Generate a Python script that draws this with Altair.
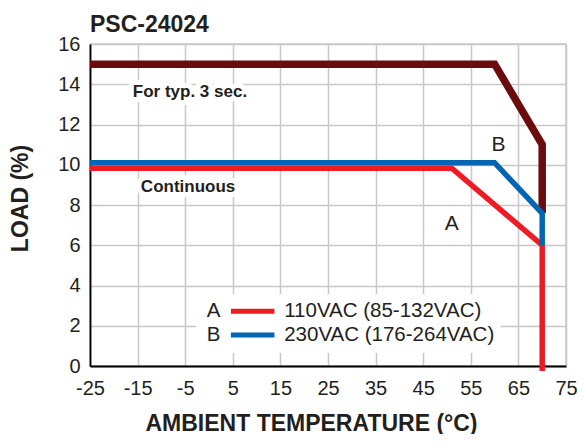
import altair as alt
import pandas as pd

# ---- data ----
peak_temp = [-25, 60, 70, 70]
peak_load = [15.0, 15.0, 11.0, 7.6]

b_temp = [-25, 60, 70, 70]
b_load = [10.1, 10.1, 7.58, 6.0]

a_temp = [-25, 51, 70, 70]
a_load = [9.83, 9.83, 6.0, -0.25]

x_ticks = [-25, -15, -5, 5, 15, 25, 35, 45, 55, 65, 75]
y_ticks = [0, 2, 4, 6, 8, 10, 12, 14, 16]

note_text = ["For typ. 3 sec.", "Continuous"]
note_x = [-4.0, -4.4]
note_y = [13.62, 8.87]

curve_tag = ["B", "A"]
tag_x = [60.8, 51.0]
tag_y = [11.0, 7.08]

legend_keys = ["A", "B"]
legend_labels = ["110VAC (85-132VAC)", "230VAC (176-264VAC)"]
legend_colors = ["#ed1c24", "#0066b3"]
legend_row_y = [2.72, 1.54]

DARK = "#6a0c0e"
BLUE = "#0066b3"
RED = "#ed1c24"
FONT = "Liberation Sans"
INK = "#231f20"

xs = alt.Scale(domain=[-25, 75], nice=False, zero=False)
ys = alt.Scale(domain=[0, 16], nice=False, zero=False)


def curve(temps, loads, name):
    return pd.DataFrame({"t": temps, "load": loads, "order": list(range(len(temps))), "s": name})


base_x = alt.X("t:Q", scale=xs,
               axis=alt.Axis(values=x_ticks, title="AMBIENT TEMPERATURE (°C)",
                             grid=True, ticks=False, labelPadding=12, labelFlush=False,
                             labelOverlap=False, labelExpr="'' + datum.value",
                             titleX=221, titleY=64, titleBaseline="alphabetic"))
base_y = alt.Y("load:Q", scale=ys,
               axis=alt.Axis(values=y_ticks, title="LOAD (%)", grid=True, ticks=False,
                             labelPadding=10, labelFlush=False, labelOverlap=False,
                             titleX=-70, titleY=154,
                             titleBaseline="middle", titleAngle=270, titleAlign="center"))

# grid layer (axis holder)
axis_layer = alt.Chart(curve(peak_temp, peak_load, "peak")).mark_line(opacity=0).encode(
    x=base_x, y=base_y)


def line_layer(df, color, width):
    return alt.Chart(df).mark_line(color=color, strokeWidth=width, clip=False,
                                   strokeJoin="miter", strokeCap="butt").encode(
        x=alt.X("t:Q", scale=xs), y=alt.Y("load:Q", scale=ys), order="order:Q")


peak_line = line_layer(curve(peak_temp, peak_load, "peak"), DARK, 7.5)
a_line = line_layer(curve(a_temp, a_load, "A"), RED, 5.5)
b_line = line_layer(curve(b_temp, b_load, "B"), BLUE, 5.5)

notes = pd.DataFrame({"text": note_text, "t": note_x, "load": note_y})
note_bg = alt.Chart(notes).mark_text(font=FONT, fontSize=17, fontWeight="bold",
                                     stroke="white", strokeWidth=10, color="white").encode(
    x=alt.X("t:Q", scale=xs), y=alt.Y("load:Q", scale=ys), text="text:N")
note_fg = alt.Chart(notes).mark_text(font=FONT, fontSize=17, fontWeight="bold",
                                     color=INK).encode(
    x=alt.X("t:Q", scale=xs), y=alt.Y("load:Q", scale=ys), text="text:N")

tags = pd.DataFrame({"text": curve_tag, "t": tag_x, "load": tag_y})
tag_layer = alt.Chart(tags).mark_text(font=FONT, fontSize=21, color=INK).encode(
    x=alt.X("t:Q", scale=xs), y=alt.Y("load:Q", scale=ys), text="text:N")

# legend box (white background)
box = pd.DataFrame({"x1": [-2.7], "x2": [61.25], "y1": [0.64], "y2": [3.57]})
box_layer = alt.Chart(box).mark_rect(color="white").encode(
    x=alt.X("x1:Q", scale=xs), x2="x2:Q", y=alt.Y("y1:Q", scale=ys), y2="y2:Q")

leg = pd.DataFrame({
    "key": legend_keys, "label": legend_labels, "color": legend_colors,
    "y": legend_row_y,
    "kx": [0.94] * 2, "sx1": [4.6] * 2, "sx2": [13.75] * 2, "lx": [15.8] * 2,
})
leg_keys = alt.Chart(leg).mark_text(font=FONT, fontSize=20.5, color=INK).encode(
    x=alt.X("kx:Q", scale=xs), y=alt.Y("y:Q", scale=ys), text="key:N")
leg_syms = alt.Chart(leg).mark_rule(strokeWidth=5).encode(
    x=alt.X("sx1:Q", scale=xs), x2="sx2:Q", y=alt.Y("y:Q", scale=ys),
    color=alt.Color("color:N", scale=None))
leg_labels = alt.Chart(leg).mark_text(font=FONT, fontSize=20.5, color=INK, align="left").encode(
    x=alt.X("lx:Q", scale=xs), y=alt.Y("y:Q", scale=ys), text="label:N")

chart = alt.layer(
    axis_layer, note_bg, note_fg, box_layer, peak_line, a_line, b_line,
    tag_layer, leg_keys, leg_syms, leg_labels,
).properties(
    width=476, height=322,
    title=alt.TitleParams("PSC-24024", anchor="start", frame="group", font=FONT,
                          fontSize=23, fontWeight="bold", color=INK, offset=1, dy=4),
    autosize=alt.AutoSizeParams(type="none"),
    padding={"left": 82, "top": 36, "right": 12, "bottom": 68},
).configure_view(stroke="#c8c8c8", strokeWidth=1.5).configure_axis(
    gridColor="#c8c8c8", gridWidth=1.5, domainColor="black", domainWidth=1.8,
    labelFont=FONT, labelFontSize=20, labelColor=INK,
    titleFont=FONT, titleFontSize=23, titleFontWeight="bold", titleColor=INK,
)

chart.save("out.html", embed_options={"renderer": "svg", "actions": False})
